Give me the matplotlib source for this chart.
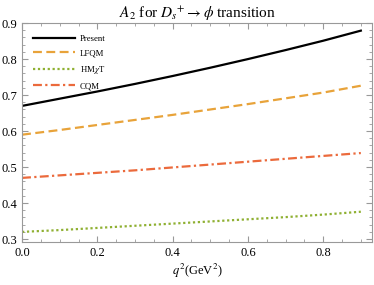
import matplotlib
matplotlib.use("Agg")
import matplotlib.pyplot as plt
from matplotlib.ticker import MultipleLocator

plt.rcParams['font.family'] = ['Liberation Serif', 'DejaVu Serif']
plt.rcParams['mathtext.fontset'] = 'stix'

q2 = [0.0, 0.1, 0.2, 0.3, 0.4, 0.5, 0.6, 0.7, 0.8, 0.9]
present = [0.670, 0.690, 0.710, 0.731, 0.753, 0.776, 0.800, 0.825, 0.851, 0.879]
lfqm = [0.590, 0.603, 0.617, 0.631, 0.645, 0.660, 0.675, 0.691, 0.707, 0.726]
hmxt = [0.320, 0.325, 0.331, 0.337, 0.343, 0.349, 0.355, 0.361, 0.368, 0.376]
cqm = [0.470, 0.477, 0.484, 0.491, 0.499, 0.507, 0.515, 0.523, 0.531, 0.539]

fig = plt.figure(figsize=(3.74, 2.85), dpi=100)
ax = fig.add_axes([0.059, 0.151, 0.936, 0.768])

ax.plot(q2, present, color='black', lw=1.6, label='Present')
ax.plot(q2, lfqm, color='#E8A33A', lw=1.6, ls=(0, (4, 2)), label='LFQM')
ax.plot(q2, hmxt, color='#8FB032', lw=1.6, ls=(0, (1, 1.2)), label=r'HM$\chi$T')
ax.plot(q2, cqm, color='#EB6A3C', lw=1.6, ls=(0, (4, 1.5, 1, 1.5)), label='CQM')

ax.set_xlim(0, 0.93)
ax.set_ylim(0.292, 0.9)
ax.xaxis.set_major_locator(MultipleLocator(0.2))
ax.xaxis.set_minor_locator(MultipleLocator(0.05))
ax.yaxis.set_major_locator(MultipleLocator(0.1))
ax.yaxis.set_minor_locator(MultipleLocator(0.02))
ax.xaxis.set_major_formatter(plt.FormatStrFormatter('%.1f'))
ax.yaxis.set_major_formatter(plt.FormatStrFormatter('%.1f'))
ax.tick_params(which='both', direction='in', top=True, right=True, colors='#999999',
               labelcolor='black', labelsize=9)
ax.tick_params(which='major', length=4)
ax.tick_params(which='minor', length=2)
for s in ax.spines.values():
    s.set_color('#999999')

ax.set_title(r'$A_2$ for $D_s{}^{+} \rightarrow \phi$ transition', fontsize=11, pad=4)
ax.set_xlabel(r'$q^2$(GeV$^2$)', fontsize=9, labelpad=2)

leg = ax.legend(loc='upper left', frameon=False, fontsize=6.3, handlelength=4.8,
                handletextpad=0.5, labelspacing=0.75, borderaxespad=0.9)

fig.savefig('out.png', dpi=100)
